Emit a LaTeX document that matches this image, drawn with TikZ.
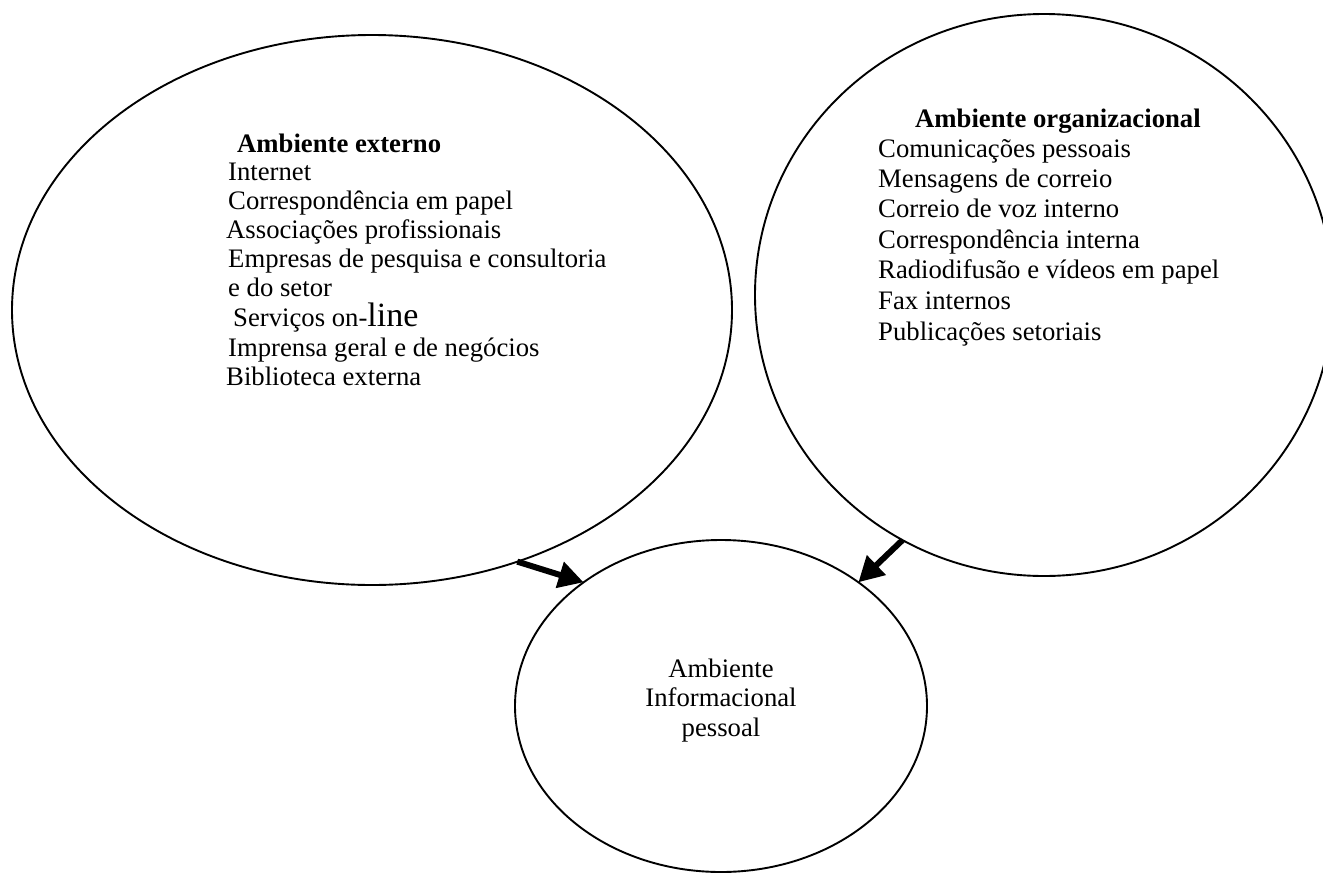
\documentclass[tikz,border=0pt]{standalone}
\usepackage{fontspec}
\setmainfont{Liberation Serif}
\usetikzlibrary{shapes.geometric,arrows.meta}
\begin{document}
\begin{tikzpicture}[x=1pt,y=-1pt,
  env/.style={draw, ellipse, line width=1.9pt, inner sep=0pt, outer sep=0pt},
  txt/.style={font=\fontsize{26.7}{30}\selectfont, inner sep=0pt, anchor=base west},
  ttl/.style={font=\fontsize{26.7}{30}\selectfont\bfseries, inner sep=0pt, anchor=base west},
  ctr/.style={font=\fontsize{26.7}{30}\selectfont, inner sep=0pt, anchor=base},
  flow/.style={line width=6pt, -{Triangle[length=25pt,width=26pt]}}]
\useasboundingbox (0,0) rectangle (1323,873);
% ellipses
\node[env, minimum width=720pt, minimum height=550pt] (ext) at (372,310) {};
\node[env, minimum width=578pt, minimum height=562pt] (org) at (1044,295) {};
\node[env, minimum width=412pt, minimum height=332pt] (per) at (721,706) {};
% left text
\node[ttl] (e0) at (237,152) {Ambiente externo};
\node[txt] (e1) at (228,180) {Internet};
\node[txt] (e2) at (228,209) {Correspondência em papel};
\node[txt] (e3) at (226,238) {Associações profissionais};
\node[txt] (e4) at (228,267) {Empresas de pesquisa e consultoria};
\node[txt] (e5) at (228,296) {e do setor};
\node[txt] (e6) at (233,326) {Serviços on-{\fontsize{34}{30}\selectfont line}};
\node[txt] (e7) at (228,356) {Imprensa geral e de negócios};
\node[txt] (e8) at (226,385) {Biblioteca externa};
% right text
\node[ttl] (o0) at (915,127) {Ambiente organizacional};
\node[txt] (o1) at (878,157) {Comunicações pessoais};
\node[txt] (o2) at (878,187) {Mensagens de correio};
\node[txt] (o3) at (878,217) {Correio de voz interno};
\node[txt] (o4) at (878,248) {Correspondência interna};
\node[txt] (o5) at (878,278) {Radiodifusão e vídeos em papel};
\node[txt] (o6) at (878,309) {Fax internos};
\node[txt] (o7) at (878,340) {Publicações setoriais};
% bottom text
\node[ctr] (b1) at (721,677) {Ambiente};
\node[ctr] (b2) at (721,706) {Informacional};
\node[ctr] (b3) at (721,736) {pessoal};
% arrows
\draw[flow] (ext.-60.5) -- (per.138.4);
\draw[flow] (org.-120.4) -- (per.42.3);
\end{tikzpicture}
\end{document}
